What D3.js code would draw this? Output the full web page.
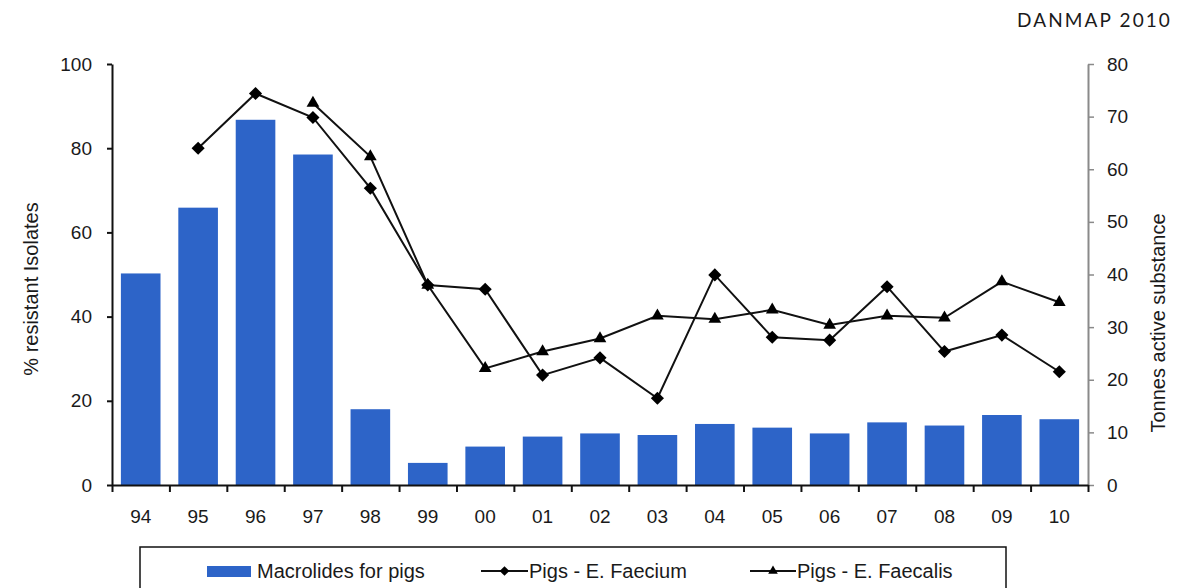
<!DOCTYPE html>
<html>
<head>
<meta charset="utf-8">
<script src="https://cdn.jsdelivr.net/npm/d3@7"></script>
<style>
  html, body { margin: 0; padding: 0; background: #fff; }
  svg { display: block; }
  text { font-family: "Liberation Sans", Arial, sans-serif; fill: #1a1a1a; }
</style>
</head>
<body>
<svg id="chart" width="1182" height="588"></svg>
<script>
// ---- Data ----
const years = ["94","95","96","97","98","99","00","01","02","03","04","05","06","07","08","09","10"];
const macrolidesTonnes = [40.2, 52.7, 69.4, 62.8, 14.4, 4.2, 7.3, 9.2, 9.8, 9.5, 11.6, 10.9, 9.8, 11.9, 11.3, 13.3, 12.5];
const faeciumPct = [null, 80.0, 93.0, 87.3, 70.5, 47.5, 46.5, 26.1, 30.2, 20.6, 49.9, 35.1, 34.4, 47.1, 31.7, 35.6, 26.9];
const faecalisPct = [null, null, null, 90.7, 78.0, 47.5, 27.7, 31.7, 34.8, 40.2, 39.4, 41.6, 38.0, 40.2, 39.7, 48.3, 43.4];
const leftTicks = [0, 20, 40, 60, 80, 100];
const rightTicks = [0, 10, 20, 30, 40, 50, 60, 70, 80];
const legendLabels = ["Macrolides for pigs", "Pigs - E. Faecium", "Pigs - E. Faecalis"];

(function () {
// ---- Layout ----
const svg = d3.select("#chart");
const mLeft = 112, mRight = 1088, mTop = 64, mBottom = 485;
const barColor = "#2d64c8";
const tickFont = "19px", titleFont = "20px";

const x = d3.scaleBand().domain(years).range([mLeft, mRight]).paddingInner(0.31).paddingOuter(0.155);
const xEdge = d3.scaleLinear().domain([0, years.length]).range([mLeft, mRight]);
const yL = d3.scaleLinear().domain([0, 100]).range([mBottom, mTop]);
const yR = d3.scaleLinear().domain([0, 80]).range([mBottom, mTop]);

// Bars (right axis, tonnes)
svg.append("g").selectAll("rect").data(years).join("rect")
  .attr("x", d => x(d))
  .attr("width", x.bandwidth())
  .attr("y", (d, i) => yR(macrolidesTonnes[i]))
  .attr("height", (d, i) => yR(0) - yR(macrolidesTonnes[i]))
  .attr("fill", barColor);

// Left axis
const gL = svg.append("g").attr("transform", `translate(${mLeft},0)`)
  .call(d3.axisLeft(yL).tickValues(leftTicks).tickSize(5).tickSizeOuter(0).tickPadding(15));
gL.select(".domain").attr("stroke", "#111").attr("stroke-width", 2);
gL.selectAll(".tick line").attr("stroke", "#111").attr("stroke-width", 2);
gL.selectAll(".tick text").style("font-size", tickFont).attr("fill", "#1a1a1a");

// Right axis
const gR = svg.append("g").attr("transform", `translate(${mRight},0)`)
  .call(d3.axisRight(yR).tickValues(rightTicks).tickSize(6).tickSizeOuter(0).tickPadding(13));
gR.select(".domain").attr("stroke", "#8a8a8a").attr("stroke-width", 2);
gR.selectAll(".tick line").attr("stroke", "#8a8a8a").attr("stroke-width", 1.5);
gR.selectAll(".tick text").style("font-size", tickFont).attr("fill", "#1a1a1a");

// X axis: tick marks at band edges
const gX = svg.append("g").attr("transform", `translate(0,${mBottom})`)
  .call(d3.axisBottom(xEdge).tickValues(d3.range(years.length + 1)).tickSize(7).tickSizeOuter(0).tickFormat(""));
gX.select(".domain").attr("stroke", "#111").attr("stroke-width", 2);
gX.selectAll(".tick line").attr("stroke", "#111").attr("stroke-width", 2);
// X labels at band centers
const gXL = svg.append("g").attr("transform", `translate(0,${mBottom})`)
  .call(d3.axisBottom(x).tickSize(0).tickPadding(25));
gXL.select(".domain").remove();
gXL.selectAll(".tick text").style("font-size", tickFont).attr("fill", "#1a1a1a");

// Lines
const cx = i => x(years[i]) + x.bandwidth() / 2;
const lineGen = arr => d3.line()
  .defined(i => arr[i] != null)
  .x(i => cx(i))
  .y(i => yL(arr[i]));
const idx = d3.range(years.length);

svg.append("path").attr("d", lineGen(faecalisPct)(idx))
  .attr("fill", "none").attr("stroke", "#111").attr("stroke-width", 2);
svg.append("path").attr("d", lineGen(faeciumPct)(idx))
  .attr("fill", "none").attr("stroke", "#111").attr("stroke-width", 2);

const diamond = d3.symbol().type(d3.symbolDiamond2 || d3.symbolDiamond).size(110);
const tri = d3.symbol().type(d3.symbolTriangle).size(70);

svg.append("g").selectAll("path").data(idx.filter(i => faecalisPct[i] != null)).join("path")
  .attr("d", tri)
  .attr("transform", i => `translate(${cx(i)},${yL(faecalisPct[i])})`)
  .attr("fill", "#000");
svg.append("g").selectAll("path").data(idx.filter(i => faeciumPct[i] != null)).join("path")
  .attr("d", diamond)
  .attr("transform", i => `translate(${cx(i)},${yL(faeciumPct[i])})`)
  .attr("fill", "#000");

// Axis titles
svg.append("text")
  .attr("transform", `translate(31,289) rotate(-90)`)
  .attr("text-anchor", "middle").attr("dominant-baseline", "central")
  .style("font-size", titleFont)
  .text("% resistant Isolates");
svg.append("text")
  .attr("transform", `translate(1158,323) rotate(-90)`)
  .attr("text-anchor", "middle").attr("dominant-baseline", "central")
  .style("font-size", titleFont)
  .text("Tonnes active substance");

// DANMAP label
svg.append("text")
  .attr("x", 1172).attr("y", 27)
  .attr("text-anchor", "end")
  .style("font-family", "Lato, 'Open Sans', sans-serif")
  .style("font-weight", "400")
  .style("font-size", "19px")
  .style("letter-spacing", "2.1px")
  .attr("fill", "#222")
  .text("DANMAP 2010");

// Legend
const lg = svg.append("g");
lg.append("rect").attr("x", 140).attr("y", 547).attr("width", 866).attr("height", 60)
  .attr("fill", "#fff").attr("stroke", "#111").attr("stroke-width", 1.5);
const ly = 571;
lg.append("rect").attr("x", 207).attr("y", ly - 5).attr("width", 44).attr("height", 11).attr("fill", barColor);
lg.append("text").attr("x", 257).attr("y", ly).attr("dominant-baseline", "central")
  .style("font-size", titleFont).text(legendLabels[0]);

lg.append("line").attr("x1", 481).attr("x2", 528).attr("y1", ly).attr("y2", ly).attr("stroke", "#111").attr("stroke-width", 2);
lg.append("path").attr("d", d3.symbol().type(d3.symbolDiamond2 || d3.symbolDiamond).size(60)()).attr("transform", `translate(504.5,${ly})`);
lg.append("text").attr("x", 529).attr("y", ly).attr("dominant-baseline", "central")
  .style("font-size", titleFont).text(legendLabels[1]);

lg.append("line").attr("x1", 750).attr("x2", 796).attr("y1", ly).attr("y2", ly).attr("stroke", "#111").attr("stroke-width", 2);
lg.append("path").attr("d", d3.symbol().type(d3.symbolTriangle).size(40)()).attr("transform", `translate(773,${ly})`);
lg.append("text").attr("x", 797).attr("y", ly).attr("dominant-baseline", "central")
  .style("font-size", titleFont).text(legendLabels[2]);
})();
</script>
</body>
</html>
